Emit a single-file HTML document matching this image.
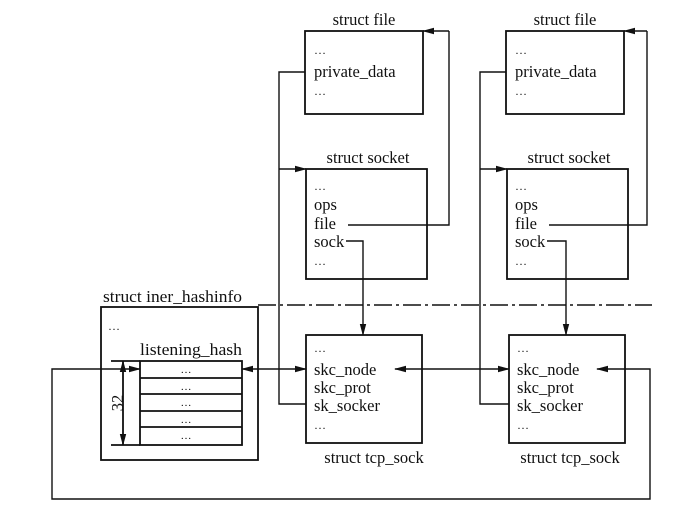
<!DOCTYPE html>
<html><head><meta charset="utf-8"><style>
html,body{margin:0;padding:0;background:#fff;}
svg{display:block;}
text{font-family:"Liberation Serif",serif;font-size:16.5px;fill:#111;}
.t{text-anchor:middle;}
</style></head><body>
<svg width="690" height="519" viewBox="0 0 690 519" xmlns="http://www.w3.org/2000/svg">
<defs>
<marker id="a" markerWidth="12" markerHeight="8" refX="11" refY="4" orient="auto" markerUnits="userSpaceOnUse">
<path d="M0,0.8 L12,4 L0,7.2 Z" fill="#111"/></marker>
</defs>
<g fill="none" stroke="#111" stroke-width="1.8">
<rect x="305" y="31" width="118" height="83"/>
<rect x="506" y="31" width="118" height="83"/>
<rect x="306" y="169" width="121" height="110"/>
<rect x="507" y="169" width="121" height="110"/>
<rect x="306" y="335" width="116" height="108"/>
<rect x="509" y="335" width="116" height="108"/>
<rect x="101" y="307" width="157" height="153"/>
<rect x="140" y="361" width="102" height="84"/>
<line x1="140" y1="378" x2="242" y2="378"/>
<line x1="140" y1="394" x2="242" y2="394"/>
<line x1="140" y1="411" x2="242" y2="411"/>
<line x1="140" y1="427" x2="242" y2="427"/>
<line x1="111" y1="361" x2="140" y2="361"/>
<line x1="111" y1="445" x2="140" y2="445"/>
<line x1="123" y1="375" x2="123" y2="361" marker-end="url(#a)"/>
<line x1="123" y1="430" x2="123" y2="445" marker-end="url(#a)"/>
<line x1="123" y1="375" x2="123" y2="430"/>
</g>
<g fill="none" stroke="#111" stroke-width="1.4">
<line x1="258" y1="305" x2="652" y2="305" stroke-dasharray="18,4,3,4"/>
<polyline points="305,72 279,72 279,404 306,404"/>
<line x1="279" y1="169" x2="306" y2="169" marker-end="url(#a)"/>
<polyline points="506,72 480,72 480,404 509,404"/>
<line x1="480" y1="169" x2="507" y2="169" marker-end="url(#a)"/>
<polyline points="348,225 449,225 449,31" />
<line x1="449" y1="31" x2="423" y2="31" marker-end="url(#a)"/>
<polyline points="549,225 647,225 647,31"/>
<line x1="647" y1="31" x2="624" y2="31" marker-end="url(#a)"/>
<polyline points="346,241 363,241 363,300"/>
<line x1="363" y1="300" x2="363" y2="335" marker-end="url(#a)"/>
<polyline points="547,241 566,241 566,300"/>
<line x1="566" y1="300" x2="566" y2="335" marker-end="url(#a)"/>
<line x1="274" y1="369" x2="242" y2="369" marker-end="url(#a)"/>
<line x1="274" y1="369" x2="306" y2="369" marker-end="url(#a)"/>
<line x1="450" y1="369" x2="395" y2="369" marker-end="url(#a)"/>
<line x1="450" y1="369" x2="509" y2="369" marker-end="url(#a)"/>
<polyline points="620,369 650,369 650,499 52,499 52,369 110,369"/>
<line x1="110" y1="369" x2="140" y2="369" marker-end="url(#a)"/>
<line x1="620" y1="369" x2="597" y2="369" marker-end="url(#a)"/>
</g>
<text class="t" x="364" y="25">struct file</text>
<text class="t" x="565" y="25">struct file</text>
<text class="t" x="368" y="163">struct socket</text>
<text class="t" x="569" y="163">struct socket</text>
<text class="t" x="374" y="463">struct tcp_sock</text>
<text class="t" x="570" y="463">struct tcp_sock</text>
<text x="103" y="302" textLength="139" lengthAdjust="spacingAndGlyphs">struct iner_hashinfo</text>
<text x="140" y="355" textLength="102" lengthAdjust="spacingAndGlyphs">listening_hash</text>
<text x="108" y="330" style="font-size:12px">…</text>
<text x="117" y="403" transform="rotate(-90 117 403)" text-anchor="middle" dy="6">32</text>
<g text-anchor="middle"><text x="186" y="373" style="font-size:11px">…</text><text x="186" y="390" style="font-size:11px">…</text><text x="186" y="406" style="font-size:11px">…</text><text x="186" y="423" style="font-size:11px">…</text><text x="186" y="439" style="font-size:11px">…</text></g>
<g style="font-size:12px">
<text x="314" y="54" style="font-size:12px">…</text><text x="314" y="95" style="font-size:12px">…</text>
<text x="515" y="54" style="font-size:12px">…</text><text x="515" y="95" style="font-size:12px">…</text>
<text x="314" y="190" style="font-size:12px">…</text><text x="314" y="265" style="font-size:12px">…</text>
<text x="515" y="190" style="font-size:12px">…</text><text x="515" y="265" style="font-size:12px">…</text>
<text x="314" y="352" style="font-size:12px">…</text><text x="314" y="429" style="font-size:12px">…</text>
<text x="517" y="352" style="font-size:12px">…</text><text x="517" y="429" style="font-size:12px">…</text>
</g>
<text x="314" y="77">private_data</text>
<text x="515" y="77">private_data</text>
<text x="314" y="210">ops</text><text x="314" y="229">file</text><text x="314" y="247">sock</text>
<text x="515" y="210">ops</text><text x="515" y="229">file</text><text x="515" y="247">sock</text>
<text x="314" y="375">skc_node</text><text x="314" y="393">skc_prot</text><text x="314" y="411">sk_socker</text>
<text x="517" y="375">skc_node</text><text x="517" y="393">skc_prot</text><text x="517" y="411">sk_socker</text>
</svg>
</body></html>
